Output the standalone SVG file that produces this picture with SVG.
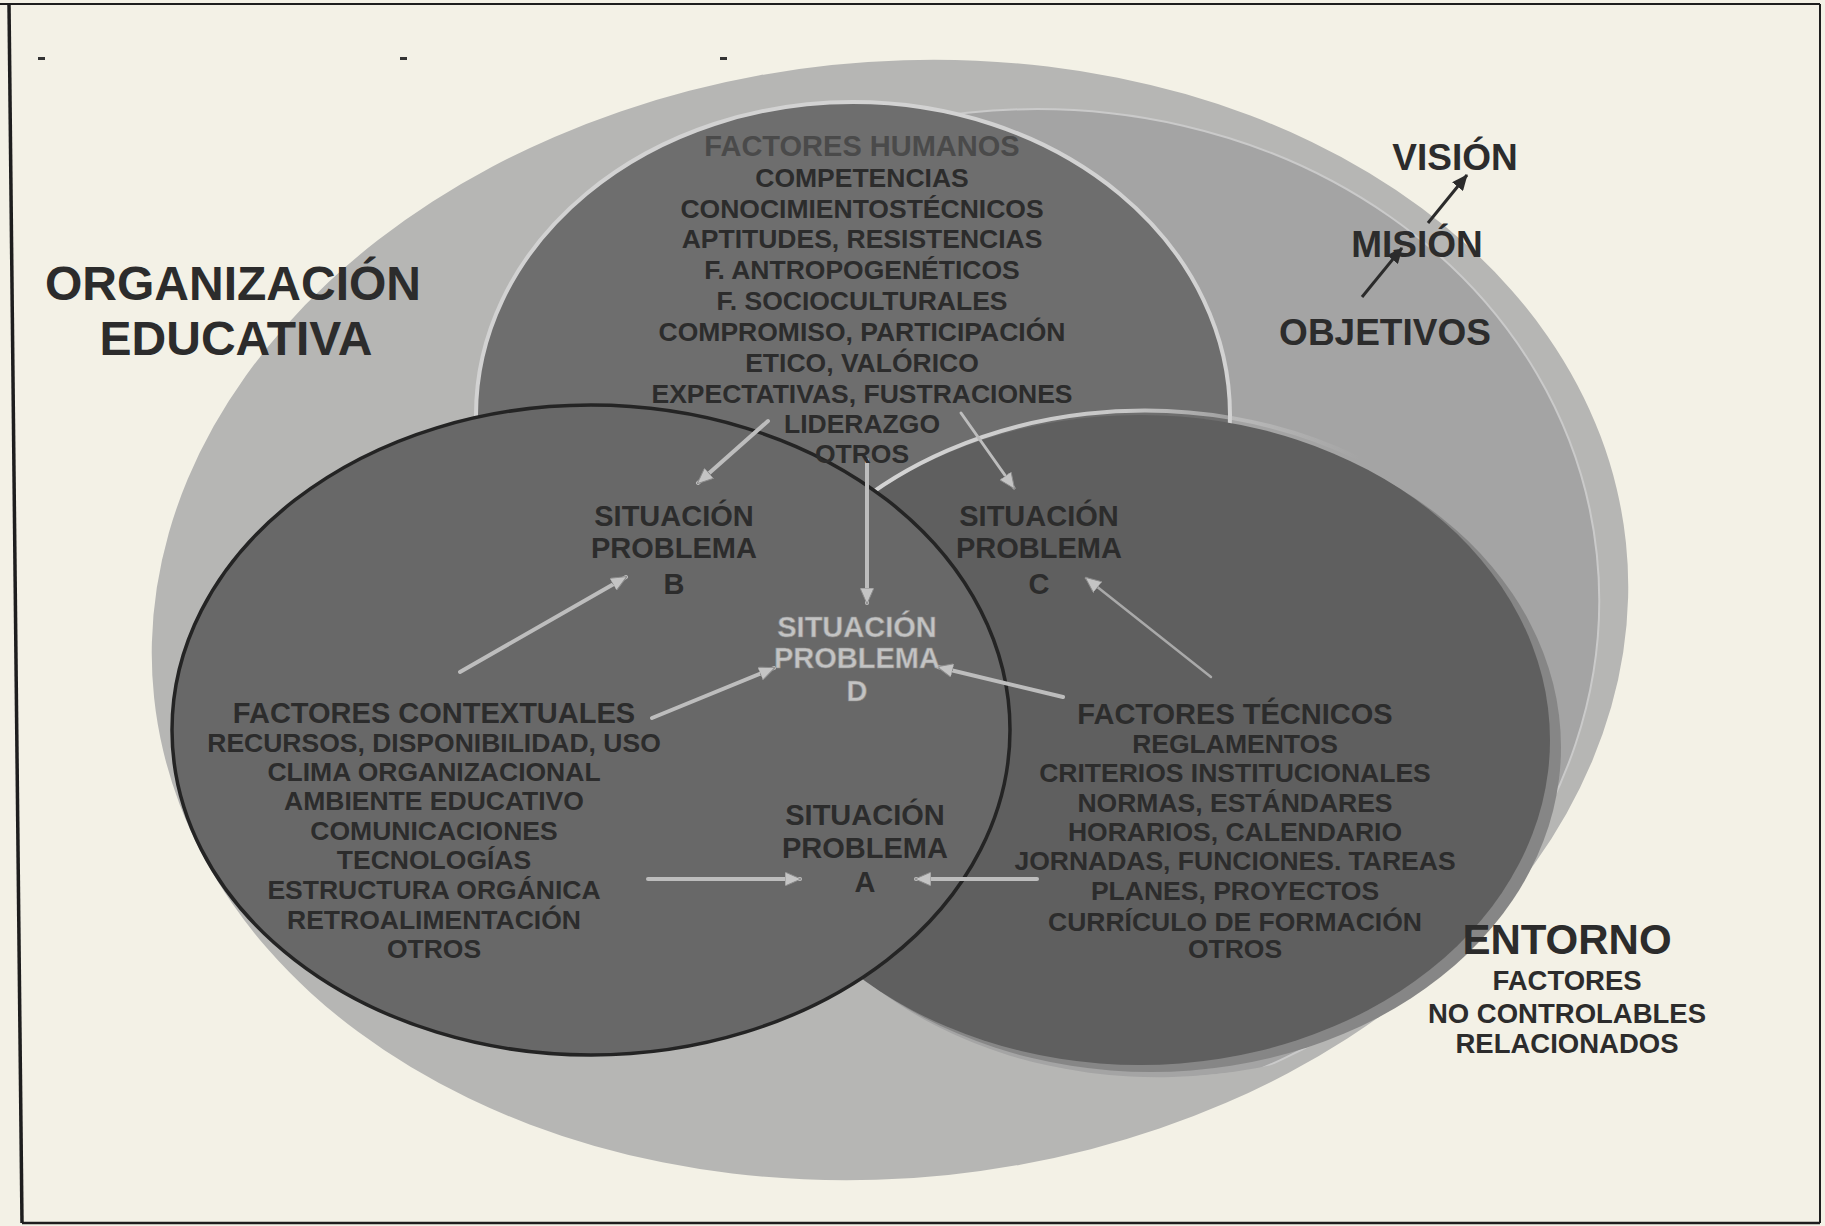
<svg xmlns="http://www.w3.org/2000/svg" width="1825" height="1226" viewBox="0 0 1825 1226">
<defs>
<style>
.t{font-family:"Liberation Sans",Arial,sans-serif;font-weight:bold;fill:#2c2c2c;text-anchor:middle}
.b{font-size:26.5px}
.h{font-size:29px}
.big{font-size:48px}
.m{font-size:37px}
.e{font-size:27.5px}
.lt{fill:#c3c3c3;stroke:#8c8c8c;stroke-width:0.6}
.ga{stroke:#bdbdbd;stroke-width:4;fill:none;stroke-linecap:round;marker-end:url(#ha)}
.da{stroke:#2b2b2b;stroke-width:3;fill:none;marker-end:url(#hd)}
</style>
<marker id="ha" viewBox="0 0 16 14" refX="15" refY="7" markerWidth="16" markerHeight="14" markerUnits="userSpaceOnUse" orient="auto">
<path d="M0,0 L16,7 L0,14 Z" fill="#c4c4c4" stroke="#8a8a8a" stroke-width="1"/>
</marker>
<marker id="hd" viewBox="0 0 16 14" refX="15" refY="7" markerWidth="16" markerHeight="14" markerUnits="userSpaceOnUse" orient="auto">
<path d="M0,0 L16,7 L0,14 Z" fill="#2b2b2b"/>
</marker>
<clipPath id="midclip">
<polygon points="880,0 1825,0 1825,745 900,745"/>
<ellipse cx="1165" cy="752" rx="428" ry="340"/>
</clipPath>
<linearGradient id="rim" gradientUnits="userSpaceOnUse" x1="840" y1="0" x2="1360" y2="0">
<stop offset="0" stop-color="#d6d6d6" stop-opacity="1"/>
<stop offset="0.55" stop-color="#d0d0d0" stop-opacity="0.9"/>
<stop offset="1" stop-color="#d0d0d0" stop-opacity="0"/>
</linearGradient>
</defs>

<rect x="0" y="0" width="1825" height="1226" fill="#f3f1e6"/>

<g id="marks">
<rect x="38" y="57" width="7" height="3" fill="#333"/>
<rect x="400" y="57" width="7" height="3" fill="#333"/>
<rect x="720" y="57" width="7" height="3" fill="#333"/>
</g>

<g id="organizacion-shape">
<ellipse cx="890" cy="620" rx="740" ry="558" transform="rotate(-6 890 620)" fill="#b6b6b4"/>
<ellipse cx="1020" cy="615" rx="580" ry="505" transform="rotate(-6 1020 615)" fill="#a4a4a4" stroke="#cacaca" stroke-width="2" clip-path="url(#midclip)"/>
</g>

<g id="n-humanos">
<ellipse cx="853" cy="415" rx="377" ry="313" fill="#6e6e6e" stroke="#d2d2d2" stroke-width="4"/>
</g>

<g id="n-tecnicos">
<ellipse cx="1151" cy="747" rx="410" ry="325" fill="#868686"/>
<ellipse cx="1140" cy="740" rx="410" ry="325" fill="#5f5f5f"/>
<path d="M840,518 A410,325 0 0 1 1360,459" fill="none" stroke="url(#rim)" stroke-width="4"/>
</g>

<g id="n-contextuales">
<ellipse cx="591" cy="730" rx="419" ry="325" fill="#686868" stroke="#242424" stroke-width="3.5"/>
</g>

<g id="connectors">
<line class="ga" x1="768" y1="421" x2="698" y2="483"/>
<line class="ga" x1="867" y1="460" x2="867" y2="603"/>
<line class="ga" x1="961" y1="413" x2="1014" y2="488" style="stroke-width:3"/>
<line class="ga" x1="460" y1="672" x2="626" y2="577"/>
<line class="ga" x1="652" y1="718" x2="774" y2="668"/>
<line class="ga" x1="1063" y1="697" x2="938" y2="667"/>
<line class="ga" x1="1211" y1="677" x2="1086" y2="578" style="stroke-width:2.5;stroke:#a9a9a9"/>
<line class="ga" x1="648" y1="879" x2="800" y2="879"/>
<line class="ga" x1="1037" y1="879" x2="916" y2="879"/>
<line class="da" x1="1362" y1="297" x2="1402" y2="248"/>
<line class="da" x1="1428" y1="223" x2="1467" y2="175"/>
</g>

<g id="t-humanos" class="t">
<text x="862" y="156" class="h" style="fill:#4a4a4a">FACTORES HUMANOS</text>
<text x="862" y="187" class="b">COMPETENCIAS</text>
<text x="862" y="218" class="b">CONOCIMIENTOSTÉCNICOS</text>
<text x="862" y="248" class="b">APTITUDES, RESISTENCIAS</text>
<text x="862" y="279" class="b">F. ANTROPOGENÉTICOS</text>
<text x="862" y="310" class="b">F. SOCIOCULTURALES</text>
<text x="862" y="341" class="b">COMPROMISO, PARTICIPACIÓN</text>
<text x="862" y="372" class="b">ETICO, VALÓRICO</text>
<text x="862" y="403" class="b">EXPECTATIVAS, FUSTRACIONES</text>
<text x="862" y="433" class="b">LIDERAZGO</text>
<text x="862" y="463" class="b">OTROS</text>
</g>

<g id="t-contextuales" class="t">
<text x="434" y="723" class="h">FACTORES CONTEXTUALES</text>
<text x="434" y="752" class="b">RECURSOS, DISPONIBILIDAD, USO</text>
<text x="434" y="781" class="b">CLIMA ORGANIZACIONAL</text>
<text x="434" y="810" class="b">AMBIENTE EDUCATIVO</text>
<text x="434" y="840" class="b">COMUNICACIONES</text>
<text x="434" y="869" class="b">TECNOLOGÍAS</text>
<text x="434" y="899" class="b">ESTRUCTURA ORGÁNICA</text>
<text x="434" y="929" class="b">RETROALIMENTACIÓN</text>
<text x="434" y="958" class="b">OTROS</text>
</g>

<g id="t-tecnicos" class="t">
<text x="1235" y="724" class="h">FACTORES TÉCNICOS</text>
<text x="1235" y="753" class="b">REGLAMENTOS</text>
<text x="1235" y="782" class="b">CRITERIOS INSTITUCIONALES</text>
<text x="1235" y="812" class="b">NORMAS, ESTÁNDARES</text>
<text x="1235" y="841" class="b">HORARIOS, CALENDARIO</text>
<text x="1235" y="870" class="b">JORNADAS, FUNCIONES. TAREAS</text>
<text x="1235" y="900" class="b">PLANES, PROYECTOS</text>
<text x="1235" y="931" class="b">CURRÍCULO DE FORMACIÓN</text>
<text x="1235" y="958" class="b">OTROS</text>
</g>

<g id="n-sp-b" class="t h">
<text x="674" y="526">SITUACIÓN</text>
<text x="674" y="558">PROBLEMA</text>
<text x="674" y="594">B</text>
</g>

<g id="n-sp-c" class="t h">
<text x="1039" y="526">SITUACIÓN</text>
<text x="1039" y="558">PROBLEMA</text>
<text x="1039" y="594">C</text>
</g>

<g id="n-sp-d" class="t h">
<text x="857" y="637" class="lt">SITUACIÓN</text>
<text x="857" y="668" class="lt">PROBLEMA</text>
<text x="857" y="701" class="lt">D</text>
</g>

<g id="n-sp-a" class="t h">
<text x="865" y="825">SITUACIÓN</text>
<text x="865" y="858">PROBLEMA</text>
<text x="865" y="892">A</text>
</g>

<g id="n-organizacion" class="t big">
<text x="233" y="300">ORGANIZACIÓN</text>
<text x="236" y="355">EDUCATIVA</text>
</g>

<g id="n-vision" class="t m">
<text x="1455" y="170">VISIÓN</text>
</g>
<g id="n-mision" class="t m">
<text x="1417" y="257">MISIÓN</text>
</g>
<g id="n-objetivos" class="t m">
<text x="1385" y="345">OBJETIVOS</text>
</g>

<g id="n-entorno" class="t">
<text x="1567" y="954" style="font-size:42px">ENTORNO</text>
<text x="1567" y="990" class="e">FACTORES</text>
<text x="1567" y="1023" class="e">NO CONTROLABLES</text>
<text x="1567" y="1053" class="e">RELACIONADOS</text>
</g>

<g id="frame" fill="none" stroke="#1e1e1e">
<line x1="0" y1="4" x2="1820" y2="4" stroke-width="2"/>
<line x1="1820" y1="4" x2="1820" y2="1223" stroke-width="2"/>
<line x1="22" y1="1223" x2="1820" y2="1223" stroke-width="2.5"/>
<line x1="9" y1="4" x2="22" y2="1223" stroke-width="3.5"/>
</g>
</svg>
